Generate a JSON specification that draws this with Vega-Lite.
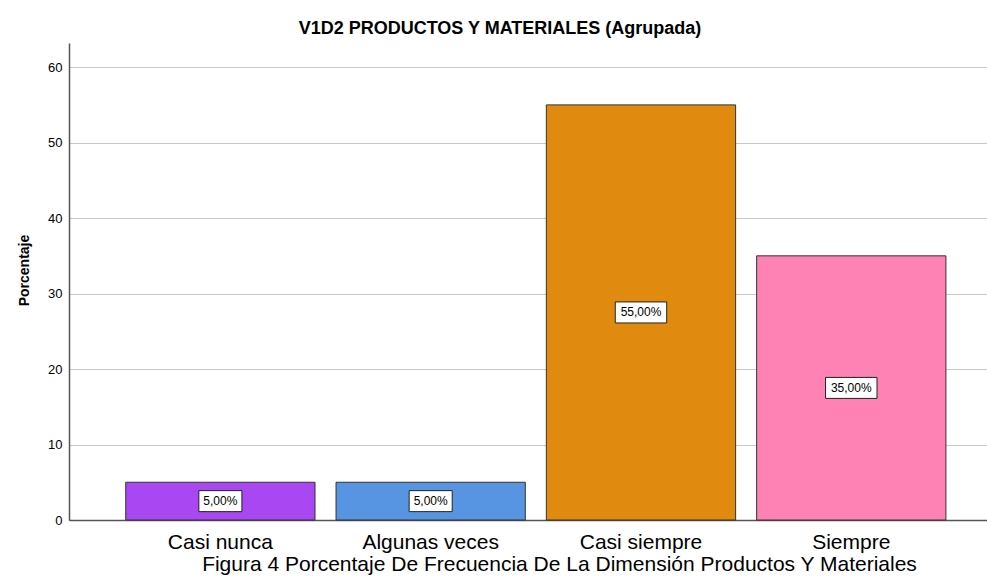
{
  "$schema": "https://vega.github.io/schema/vega-lite/v6.json",
  "width": 918,
  "height": 477,
  "autosize": {"type": "none"},
  "padding": {"left": 69, "top": 43, "right": 0, "bottom": 58},
  "background": "white",
  "config": {
    "font": "Liberation Sans",
    "view": {"stroke": null}
  },
  "title": {
    "text": "V1D2 PRODUCTOS Y MATERIALES (Agrupada)",
    "fontSize": 18,
    "fontWeight": "bold",
    "font": "Liberation Sans",
    "color": "#000000",
    "anchor": "middle",
    "baseline": "alphabetic",
    "dx": -28,
    "dy": 15,
    "offset": 6
  },
  "data": {
    "values": [
      {"categoria": "Casi nunca", "porcentaje": 5, "etiqueta": "5,00%", "mitad": 2.5},
      {"categoria": "Algunas veces", "porcentaje": 5, "etiqueta": "5,00%", "mitad": 2.5},
      {"categoria": "Casi siempre", "porcentaje": 55, "etiqueta": "55,00%", "mitad": 27.5},
      {"categoria": "Siempre", "porcentaje": 35, "etiqueta": "35,00%", "mitad": 17.5}
    ]
  },
  "encoding": {
    "x": {
      "field": "categoria",
      "type": "nominal",
      "sort": null,
      "scale": {"paddingInner": 0.1, "paddingOuter": 0.2326, "align": 0.58},
      "axis": {
        "title": "Figura 4 Porcentaje De Frecuencia De La Dimensión Productos Y Materiales",
        "titleFont": "Liberation Sans",
        "titleFontWeight": "normal",
        "titleFontSize": 21,
        "titleColor": "#000000",
        "titleAnchor": null,
        "titleX": 490,
        "titleY": 50,
        "titleAlign": "center",
        "titleBaseline": "alphabetic",
        "labelAngle": 0,
        "labelFontSize": 21,
        "labelColor": "#000000",
        "labelFont": "Liberation Sans",
        "labelPadding": 11,
        "ticks": false,
        "domainColor": "#555555",
        "domainWidth": 1.5,
        "grid": false
      }
    }
  },
  "layer": [
    {
      "mark": {"type": "bar", "stroke": "#333333", "strokeWidth": 1},
      "encoding": {
        "y": {
          "field": "porcentaje",
          "type": "quantitative",
          "scale": {"domain": [0, 63.2], "nice": false},
          "axis": {
            "title": "Porcentaje",
            "titleFont": "Liberation Sans",
            "titleFontSize": 14,
            "titleFontWeight": "bold",
            "titleColor": "#000000",
            "titleX": -45,
            "titleY": 227,
            "titleAngle": -90,
            "titleAlign": "center",
            "titleBaseline": "middle",
            "values": [0, 10, 20, 30, 40, 50, 60],
            "labelFontSize": 13,
            "labelColor": "#000000",
            "labelFont": "Liberation Sans",
            "labelPadding": 7,
            "ticks": false,
            "domainColor": "#555555",
            "domainWidth": 1.5,
            "gridColor": "#c8c8c8",
            "gridWidth": 1
          }
        },
        "color": {
          "field": "categoria",
          "type": "nominal",
          "sort": null,
          "scale": {
            "domain": ["Casi nunca", "Algunas veces", "Casi siempre", "Siempre"],
            "range": ["#a947f2", "#5795e3", "#e08a10", "#ff82b4"]
          },
          "legend": null
        }
      }
    },
    {
      "transform": [{"filter": "datum.porcentaje < 10"}],
      "mark": {"type": "point", "filled": true, "fill": "white", "stroke": "#222222", "strokeWidth": 1, "opacity": 1, "shape": "M-2.05,-1H2.05V1H-2.05Z", "size": 441},
      "encoding": {
        "y": {"field": "mitad", "type": "quantitative"}
      }
    },
    {
      "transform": [{"filter": "datum.porcentaje >= 10"}],
      "mark": {"type": "point", "filled": true, "fill": "white", "stroke": "#222222", "strokeWidth": 1, "opacity": 1, "shape": "M-2.45,-1H2.45V1H-2.45Z", "size": 441},
      "encoding": {
        "y": {"field": "mitad", "type": "quantitative"}
      }
    },
    {
      "mark": {"type": "text", "fontSize": 12, "font": "Liberation Sans", "color": "#000000", "baseline": "middle", "align": "center"},
      "encoding": {
        "y": {"field": "mitad", "type": "quantitative"},
        "text": {"field": "etiqueta"}
      }
    }
  ]
}
